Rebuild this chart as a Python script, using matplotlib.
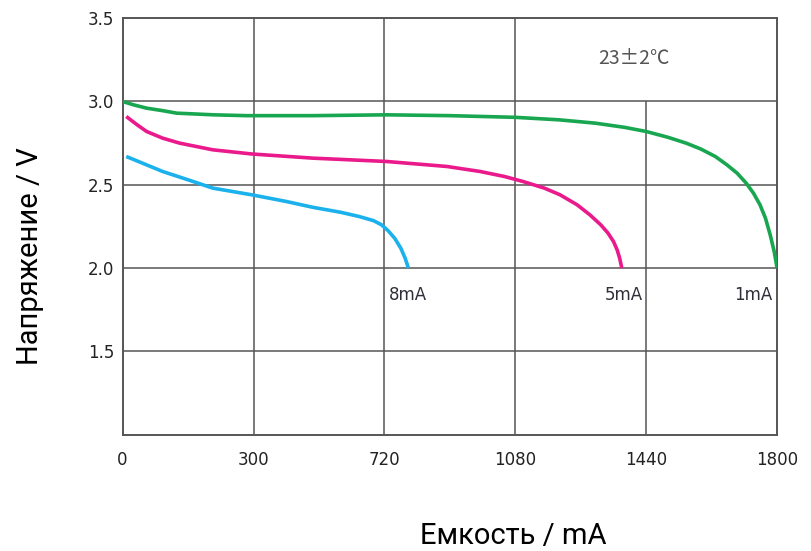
"""
Discharge curves of a cell at three load currents
"""
import matplotlib.pyplot as plt

# 1mA curve
cap_1ma = [0, 30, 66, 110, 149, 250, 341, 523, 726, 900, 1080, 1200, 1300,
           1380, 1440, 1500, 1550, 1590, 1630, 1662, 1690, 1715, 1735, 1753,
           1768, 1781, 1792, 1800]
volt_1ma = [3.0, 2.98, 2.96, 2.945, 2.93, 2.92, 2.915, 2.915, 2.92, 2.915,
            2.905, 2.89, 2.87, 2.845, 2.82, 2.785, 2.75, 2.715, 2.67, 2.62,
            2.57, 2.51, 2.45, 2.38, 2.30, 2.20, 2.10, 2.0]

# 5mA curve
cap_5ma = [10, 40, 66, 110, 157, 248, 355, 523, 726, 892, 983, 1050, 1101,
           1160, 1203, 1250, 1285, 1315, 1335, 1350, 1360, 1367, 1373]
volt_5ma = [2.91, 2.86, 2.82, 2.78, 2.75, 2.71, 2.685, 2.66, 2.64, 2.61,
            2.58, 2.55, 2.52, 2.48, 2.44, 2.38, 2.32, 2.26, 2.21, 2.16,
            2.11, 2.06, 2.0]

# 8mA curve
cap_8ma = [10, 60, 110, 180, 248, 355, 450, 523, 600, 650, 690, 712, 730,
           748, 765, 777, 786]
volt_8ma = [2.67, 2.625, 2.58, 2.53, 2.48, 2.44, 2.40, 2.365, 2.335, 2.31,
            2.285, 2.26, 2.225, 2.18, 2.12, 2.06, 2.0]

x_ticks = [0, 360, 720, 1080, 1440, 1800]
x_tick_labels = ["0", "300", "720", "1080", "1440", "1800"]
y_ticks = [1.0, 1.5, 2.0, 2.5, 3.0, 3.5]
y_tick_labels = ["", "1.5", "2.0", "2.5", "3.0", "3.5"]

curve_labels = ["8mA", "5mA", "1mA"]
temperature = "23±2℃"

grid_color = "#555555"

fig = plt.figure(figsize=(8.12, 5.51), dpi=100)
ax = fig.add_axes([0.151, 0.211, 0.806, 0.756])

# grid: horizontal lines full width, verticals (1440 stops at 3.0)
for y in y_ticks[1:-1]:
    ax.axhline(y, color=grid_color, lw=1.1, zorder=1)
for x in x_ticks[1:4]:
    ax.axvline(x, color=grid_color, lw=1.1, zorder=1)
ax.vlines(x_ticks[4], 1.0, 3.0, color=grid_color, lw=1.1, zorder=1)

ax.plot(cap_1ma, volt_1ma, color="#18a750", lw=2.6, zorder=3,
        solid_capstyle="butt")
ax.plot(cap_5ma, volt_5ma, color="#ea1a8c", lw=2.6, zorder=3,
        solid_capstyle="butt")
ax.plot(cap_8ma, volt_8ma, color="#1ab1ec", lw=2.6, zorder=3,
        solid_capstyle="butt")

label_kw = dict(fontsize=12, color="#2f2f3a", va="center")
ax.text(732, 1.84, curve_labels[0], ha="left", **label_kw)
ax.text(1432, 1.84, curve_labels[1], ha="right", **label_kw)
ax.text(1788, 1.84, curve_labels[2], ha="right", **label_kw)
ax.text(1405, 3.26, temperature, ha="center", va="center", fontsize=14,
        color="#555555", family=["Noto Sans CJK SC", "DejaVu Sans"])

ax.set_xlim(0, 1800)
ax.set_ylim(1.0, 3.5)
ax.set_xticks(x_ticks)
ax.set_xticklabels(x_tick_labels)
ax.set_yticks(y_ticks)
ax.set_yticklabels(y_tick_labels)
ax.tick_params(length=0, labelsize=12, colors="#222222")
ax.tick_params(axis="x", pad=12)
ax.tick_params(axis="y", pad=6)
for side in ax.spines.values():
    side.set_color(grid_color)
    side.set_linewidth(1.4)

fig.text(0.037, 0.535, "Напряжение / V", rotation=90, ha="center",
         va="center", fontsize=21, color="#000000", family="Roboto")
fig.text(0.632, 0.028, "Емкость / mA", ha="center", va="center",
         fontsize=21, color="#000000", family="Roboto")

fig.savefig("out.png", dpi=100)
